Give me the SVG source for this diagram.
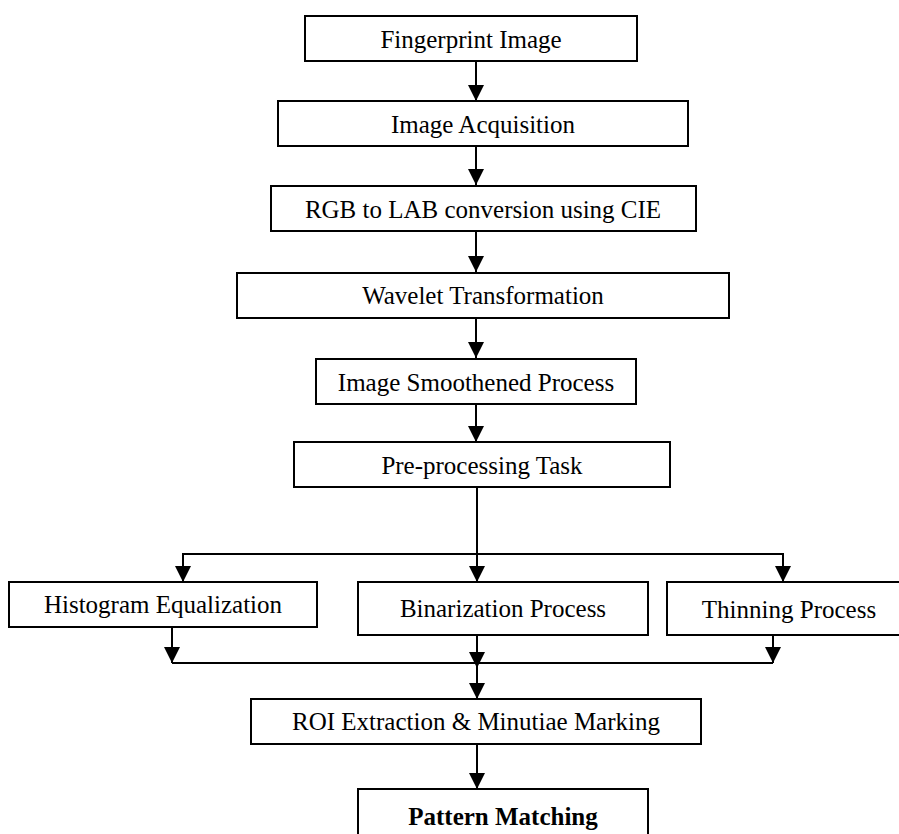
<svg xmlns="http://www.w3.org/2000/svg" width="899" height="834" viewBox="0 0 899 834">
<style>
.box{fill:#fff;stroke:#000;stroke-width:2}
.t{font-family:"Liberation Serif","Times New Roman",serif;font-size:25px;fill:#000;text-anchor:middle}
.b{font-weight:bold}
.c{fill:none;stroke:#000;stroke-width:2}
</style>
<defs>
<marker id="ah" markerUnits="userSpaceOnUse" markerWidth="16" markerHeight="16" viewBox="0 0 16 16" refX="16" refY="8" orient="auto">
<path d="M0,0 L16,8 L0,16 Z" fill="#000"/>
</marker>
</defs>
<rect width="899" height="834" fill="#fff"/>
<g id="connectors">
<line class="c" x1="476" y1="61" x2="476" y2="101" marker-end="url(#ah)"/>
<line class="c" x1="476" y1="146" x2="476" y2="185" marker-end="url(#ah)"/>
<line class="c" x1="476" y1="231" x2="476" y2="272" marker-end="url(#ah)"/>
<line class="c" x1="476" y1="318" x2="476" y2="358" marker-end="url(#ah)"/>
<line class="c" x1="476" y1="404" x2="476" y2="442" marker-end="url(#ah)"/>
<polyline class="c" points="477,487 477,554"/>
<polyline class="c" points="183,554 783,554"/>
<line class="c" x1="183" y1="553" x2="183" y2="582" marker-end="url(#ah)"/>
<line class="c" x1="477" y1="553" x2="477" y2="582" marker-end="url(#ah)"/>
<line class="c" x1="783" y1="553" x2="783" y2="582" marker-end="url(#ah)"/>
<line class="c" x1="172" y1="627" x2="172" y2="663" marker-end="url(#ah)"/>
<line class="c" x1="773" y1="635" x2="773" y2="663" marker-end="url(#ah)"/>
<line class="c" x1="477" y1="635" x2="477" y2="668" marker-end="url(#ah)"/>
<polyline class="c" points="172,663 773,663"/>
<line class="c" x1="477" y1="663" x2="477" y2="699" marker-end="url(#ah)"/>
<line class="c" x1="477" y1="744" x2="477" y2="789" marker-end="url(#ah)"/>
</g>
<g id="n1"><rect class="box" x="305" y="16" width="332" height="45"/><text class="t" x="471" y="48">Fingerprint Image</text></g>
<g id="n2"><rect class="box" x="278" y="101" width="410" height="45"/><text class="t" x="483" y="133">Image Acquisition</text></g>
<g id="n3"><rect class="box" x="271" y="186" width="425" height="45"/><text class="t" x="483" y="218">RGB to LAB conversion using CIE</text></g>
<g id="n4"><rect class="box" x="237" y="273" width="492" height="45"/><text class="t" x="483" y="304">Wavelet Transformation</text></g>
<g id="n5"><rect class="box" x="316" y="359" width="320" height="45"/><text class="t" x="476" y="391">Image Smoothened Process</text></g>
<g id="n6"><rect class="box" x="294" y="442" width="376" height="45"/><text class="t" x="482" y="474">Pre-processing Task</text></g>
<g id="n7"><rect class="box" x="9" y="582" width="308" height="45"/><text class="t" x="163" y="613">Histogram Equalization</text></g>
<g id="n8"><rect class="box" x="358" y="582" width="290" height="53"/><text class="t" x="503" y="617">Binarization Process</text></g>
<g id="n9"><rect class="box" x="667" y="582" width="245" height="53"/><text class="t" x="789" y="618">Thinning Process</text></g>
<g id="n10"><rect class="box" x="251" y="699" width="450" height="45"/><text class="t" x="476" y="730">ROI Extraction &amp; Minutiae Marking</text></g>
<g id="n11"><rect class="box" x="358" y="789" width="290" height="60"/><text class="t b" x="503" y="825">Pattern Matching</text></g>
</svg>
